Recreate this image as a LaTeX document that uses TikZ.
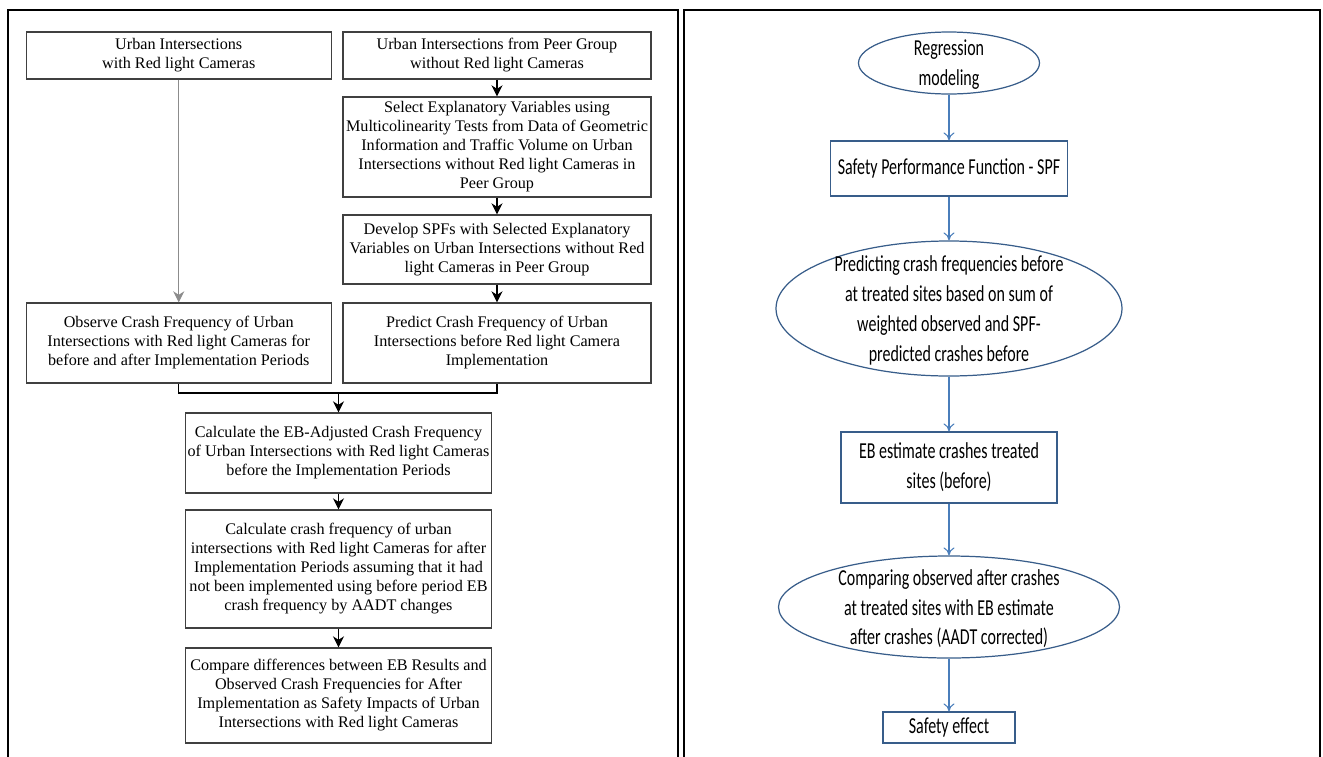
\documentclass[tikz,border=0pt]{standalone}
\usepackage{fontspec}
\setmainfont{Liberation Serif}
\newfontfamily\calfont[FakeStretch=0.7]{Carlito}
\usetikzlibrary{shapes.geometric,arrows.meta}
\definecolor{officeblue}{HTML}{4A7EBB}
\definecolor{shapeblue}{HTML}{385D8A}
\newcommand{\ovaltext}[1]{\smash{\makebox[0pt]{\raisebox{-4pt}{\parbox[c]{7cm}{\centering #1}}}}}

\begin{document}
\begin{tikzpicture}

\tikzstyle{lbox} = [rectangle, draw=black!75, line width=0.8pt, align=center, inner sep=1pt, font=\fontsize{9.2}{10.8}\selectfont]
\tikzstyle{larrow} = [line width=0.6pt, -{Stealth[length=2.2mm,width=2.2mm]}]
\tikzstyle{rbox} = [rectangle, draw=shapeblue, line width=0.7pt, align=center, inner sep=1pt, font=\calfont\fontsize{13}{17}\selectfont]
\tikzstyle{oval} = [ellipse, draw=shapeblue, line width=0.7pt, inner sep=0pt, font=\calfont\fontsize{13}{17}\selectfont]
\tikzstyle{rarrow} = [draw=officeblue, line width=0.6pt, -{To[length=1.6mm,width=2.2mm]}]

\useasboundingbox (0,0) rectangle (26.46,-15.12);

% Frames
\draw [line width=1.1pt] (0.16,-15.2) |- (13.56,-0.2) -- (13.56,-15.2);
\draw [line width=1.1pt] (13.68,-15.2) |- (26.4,-0.2) -- (26.4,-15.2);

% Left flowchart
\node (withcam) [lbox, minimum width=6.1cm, minimum height=0.94cm] at (3.575,-1.11) {Urban Intersections\\with Red light Cameras};
\node (peer) [lbox, minimum width=6.16cm, minimum height=0.94cm] at (9.94,-1.11) {Urban Intersections from Peer Group\\without Red light Cameras};
\node (select) [lbox, minimum width=6.16cm, minimum height=2cm] at (9.94,-2.94) {Select Explanatory Variables using\\Multicolinearity Tests from Data of Geometric\\Information and Traffic Volume on Urban\\Intersections without Red light Cameras in\\Peer Group};
\node (develop) [lbox, minimum width=6.16cm, minimum height=1.38cm] at (9.94,-4.99) {Develop SPFs with Selected Explanatory\\Variables on Urban Intersections without Red\\light Cameras in Peer Group};
\node (observe) [lbox, minimum width=6.1cm, minimum height=1.6cm] at (3.575,-6.86) {Observe Crash Frequency of Urban\\Intersections with Red light Cameras for\\before and after Implementation Periods};
\node (predict) [lbox, minimum width=6.16cm, minimum height=1.6cm] at (9.94,-6.86) {Predict Crash Frequency of Urban\\Intersections before Red light Camera\\Implementation};
\node (ebadj) [lbox, minimum width=6.12cm, minimum height=1.6cm] at (6.77,-9.06) {Calculate the EB-Adjusted Crash Frequency\\of Urban Intersections with Red light Cameras\\before the Implementation Periods};
\node (calcafter) [lbox, minimum width=6.12cm, minimum height=2.36cm] at (6.77,-11.38) {Calculate crash frequency of urban\\intersections with Red light Cameras for after\\Implementation Periods assuming that it had\\not been implemented using before period EB\\crash frequency by AADT changes};
\node (compare) [lbox, minimum width=6.12cm, minimum height=1.9cm] at (6.77,-13.91) {Compare differences between EB Results and\\Observed Crash Frequencies for After\\Implementation as Safety Impacts of Urban\\Intersections with Red light Cameras};
\coordinate (join) at (6.77,-7.86);

% Paths for left flowchart
\draw [larrow, draw=black!45] (withcam) -- (observe);
\draw [larrow] (peer) -- (select);
\draw [larrow] (select) -- (develop);
\draw [larrow] (develop) -- (predict);
\draw [line width=0.6pt] (observe.south) |- (join) -| (predict.south);
\draw [larrow] (join) -- (ebadj);
\draw [larrow] (ebadj) -- (calcafter);
\draw [larrow] (calcafter) -- (compare);

% Right flowchart
\node (regress) [oval, minimum width=3.62cm, minimum height=1.24cm] at (18.98,-1.26) {\ovaltext{Regression\\modeling}};
\node (spf) [rbox, minimum width=4.74cm, minimum height=1.1cm] at (18.98,-3.37) {Safety Performance Function - SPF};
\node (predcrash) [oval, minimum width=6.92cm, minimum height=2.7cm] at (18.98,-6.17) {\ovaltext{Predicting crash frequencies before\\at treated sites based on sum of\\weighted observed and SPF-\\predicted crashes before}};
\node (ebest) [rbox, minimum width=4.32cm, minimum height=1.42cm] at (18.98,-9.35) {EB estimate crashes treated\\sites (before)};
\node (comparing) [oval, minimum width=6.82cm, minimum height=2.04cm] at (18.98,-12.14) {\ovaltext{Comparing observed after crashes\\at treated sites with EB estimate\\after crashes (AADT corrected)}};
\node (effect) [rbox, minimum width=2.64cm, minimum height=0.62cm] at (18.98,-14.55) {Safety effect};

% Paths for right flowchart
\draw [rarrow] (regress) -- (spf);
\draw [rarrow] (spf) -- (predcrash);
\draw [rarrow] (predcrash) -- (ebest);
\draw [rarrow] (ebest) -- (comparing);
\draw [rarrow] (comparing) -- (effect);

\end{tikzpicture}
\end{document}
